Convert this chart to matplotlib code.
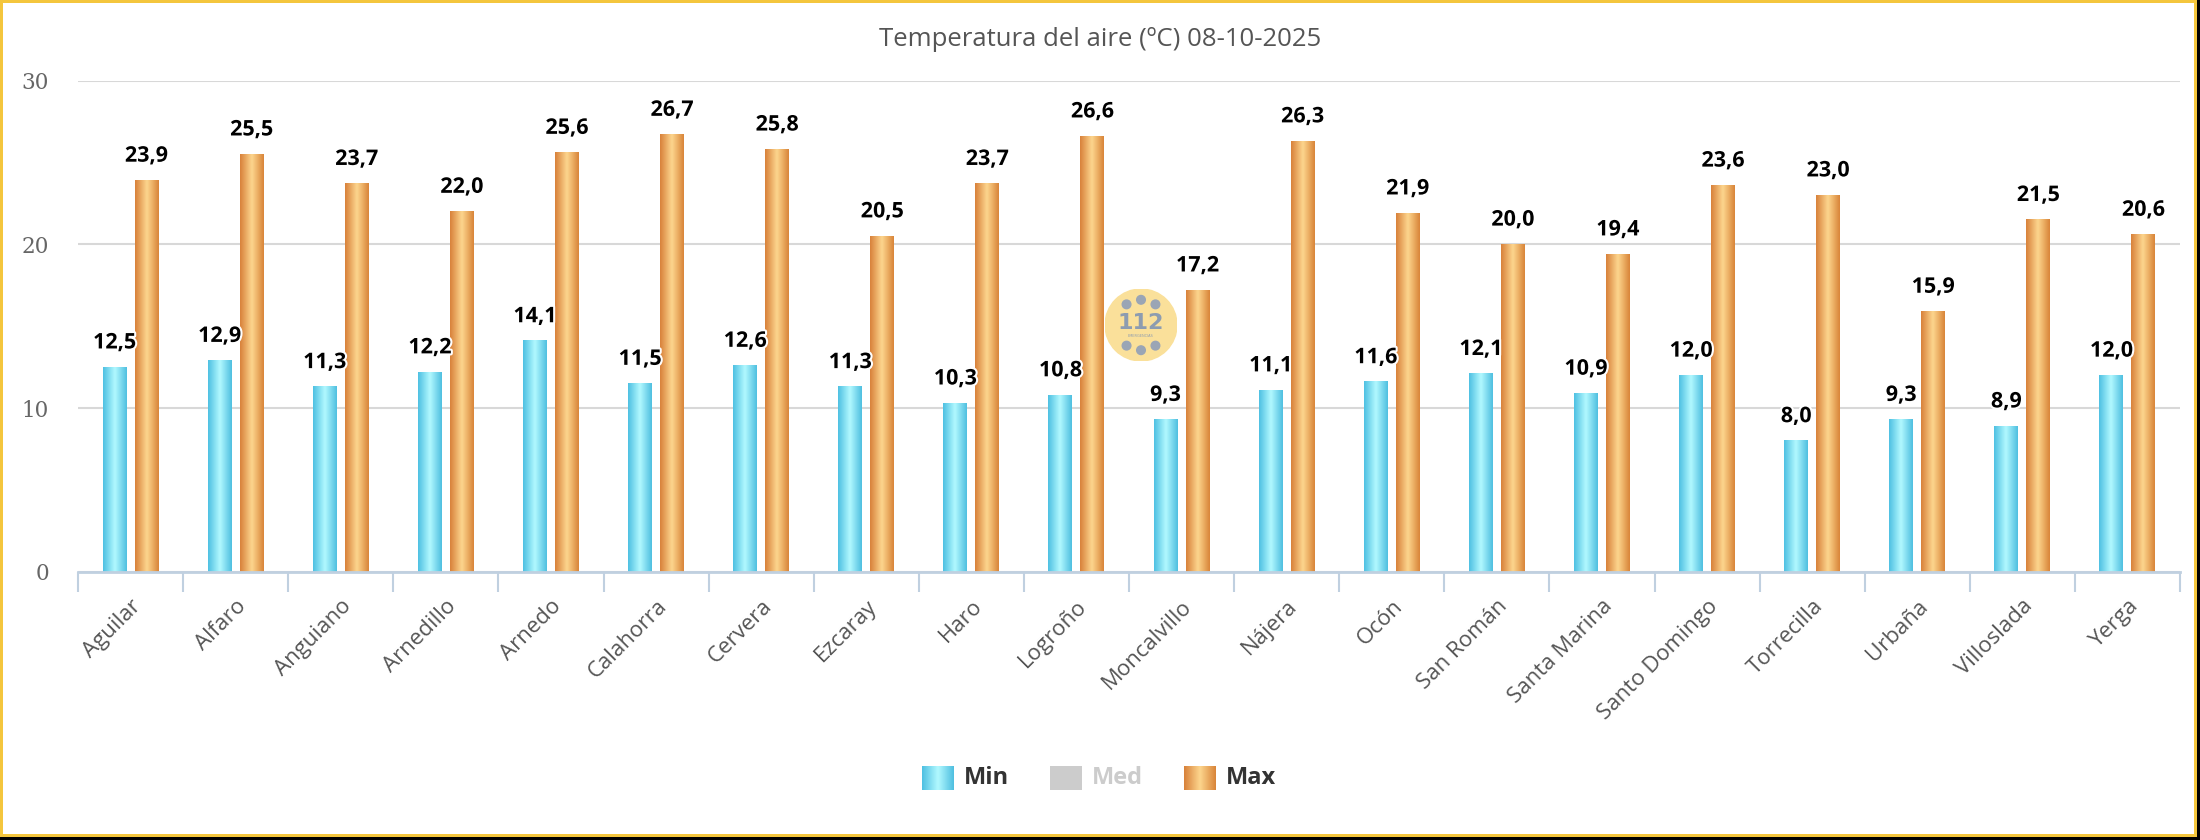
import numpy as np
import matplotlib
matplotlib.use("Agg")
import matplotlib.pyplot as plt
from matplotlib.colors import LinearSegmentedColormap
from matplotlib.patches import Rectangle, Circle
import matplotlib.patheffects as pe

estaciones = ["Aguilar", "Alfaro", "Anguiano", "Arnedillo", "Arnedo", "Calahorra",
              "Cervera", "Ezcaray", "Haro", "Logroño", "Moncalvillo", "Nájera",
              "Ocón", "San Román", "Santa Marina", "Santo Domingo", "Torrecilla",
              "Urbaña", "Villoslada", "Yerga"]
t_min = [12.5, 12.9, 11.3, 12.2, 14.1, 11.5, 12.6, 11.3, 10.3, 10.8,
         9.3, 11.1, 11.6, 12.1, 10.9, 12.0, 8.0, 9.3, 8.9, 12.0]
t_max = [23.9, 25.5, 23.7, 22.0, 25.6, 26.7, 25.8, 20.5, 23.7, 26.6,
         17.2, 26.3, 21.9, 20.0, 19.4, 23.6, 23.0, 15.9, 21.5, 20.6]
titulo = "Temperatura del aire (ºC) 08-10-2025"

W, H = 2200, 840
cmap_min = LinearSegmentedColormap.from_list("cmin", ["#4ec0e2", "#b2f9ff", "#4fbfe0"])
cmap_max = LinearSegmentedColormap.from_list("cmax", ["#d8813a", "#fdd68e", "#d98539"])
grad = np.linspace(0, 1, 64).reshape(1, -1)

fig = plt.figure(figsize=(22, 8.4), dpi=100)
fig.patch.set_facecolor("black")
fig.add_artist(Rectangle((0, 3 / H), 2197 / W, 1 - 3 / H, transform=fig.transFigure,
                         facecolor="#f4c63d", edgecolor="none", zorder=-20))
fig.add_artist(Rectangle((3 / W, 6 / H), 2191 / W, 1 - 9 / H, transform=fig.transFigure,
                         facecolor="white", edgecolor="none", zorder=-19))

ax = fig.add_axes([78 / W, 1 - 572 / H, 2102 / W, (572 - 80.5) / H])
ax.set_facecolor("none")

bw = 0.228
off = 0.152
halo = [pe.withStroke(linewidth=3, foreground="white")]
for i in range(len(estaciones)):
    for v, dx, cm in ((t_min[i], -off, cmap_min), (t_max[i], off, cmap_max)):
        ax.imshow(grad, cmap=cm, aspect="auto", interpolation="bicubic",
                  extent=(i + dx - bw / 2, i + dx + bw / 2, 0, v), zorder=2)
        ax.annotate(f"{v:.1f}".replace(".", ","), xy=(i + dx, v), xytext=(0, 13.5),
                    textcoords="offset points", ha="center", va="baseline",
                    fontsize=15.5, fontweight="bold", color="black",
                    family="Open Sans", zorder=5, path_effects=halo)
ax.set_xlim(-0.5, len(estaciones) - 0.5)
ax.set_ylim(0, 30)

ax.set_yticks([0, 10, 20, 30])
ax.set_yticklabels(["0", "10", "20", "30"])
ax.grid(axis="y", color="#d8d8d8", linewidth=1.5, zorder=0)
ax.tick_params(axis="y", length=0, pad=21, labelsize=15.5, labelcolor="#666666")
for lab in ax.get_yticklabels():
    lab.set_family("DejaVu Serif")

ax.set_xticks(range(len(estaciones)))
ax.set_xticklabels(estaciones, rotation=45, ha="right", va="top",
                   rotation_mode="anchor", fontsize=16, color="#555555", family="Open Sans")
ax.tick_params(axis="x", length=0, pad=17)
ax.set_xticks(np.arange(-0.5, len(estaciones)), minor=True)
ax.tick_params(axis="x", which="minor", length=14.5, width=1.5, color="#c0d0e0")

for s in ("top", "right", "left"):
    ax.spines[s].set_visible(False)
ax.spines["bottom"].set_color("#c0d0e0")
ax.spines["bottom"].set_linewidth(2)

fig.text(1100 / W, 1 - 39 / H, titulo, ha="center", va="center",
         fontsize=18.5, color="#555555", family="Open Sans")

# leyenda
leyenda = [("Min", cmap_min, "#333333", 922), ("Med", None, "#cccccc", 1050),
           ("Max", cmap_max, "#333333", 1184)]
for nombre, cm, col, x0 in leyenda:
    lax = fig.add_axes([x0 / W, 1 - 790 / H, 32 / W, 24 / H])
    lax.set_axis_off()
    if cm is None:
        lax.imshow([[0.8]], cmap="gray", vmin=0, vmax=1, aspect="auto")
    else:
        lax.imshow(grad, cmap=cm, aspect="auto", interpolation="bicubic")
    fig.text((x0 + 42) / W, 1 - 778 / H, nombre, ha="left", va="center",
             fontsize=17, fontweight="bold", color=col, family="Open Sans")

# logo 112 de fondo
gax = fig.add_axes([1105 / W, 1 - 361 / H, 72 / W, 72 / H])
gax.set_xlim(-1, 1)
gax.set_ylim(-1, 1)
gax.set_axis_off()
gax.set_zorder(-1)
gax.add_patch(Circle((0, 0), 1, color="#fae09a"))
for a in (125, 90, 55, -55, -90, -125):
    r = 0.7
    gax.add_patch(Circle((r * np.cos(np.radians(a)), r * np.sin(np.radians(a))), 0.12,
                         color="#9aa5b5"))
gax.text(0, 0.05, "112", ha="center", va="center", fontsize=16, fontweight="bold",
         color="#8d9cb0")
gax.text(0, -0.3, "EMERGENCIAS", ha="center", va="center", fontsize=2.5, color="#8d9cb0")

fig.savefig("out.png", dpi=100, facecolor=fig.get_facecolor())
